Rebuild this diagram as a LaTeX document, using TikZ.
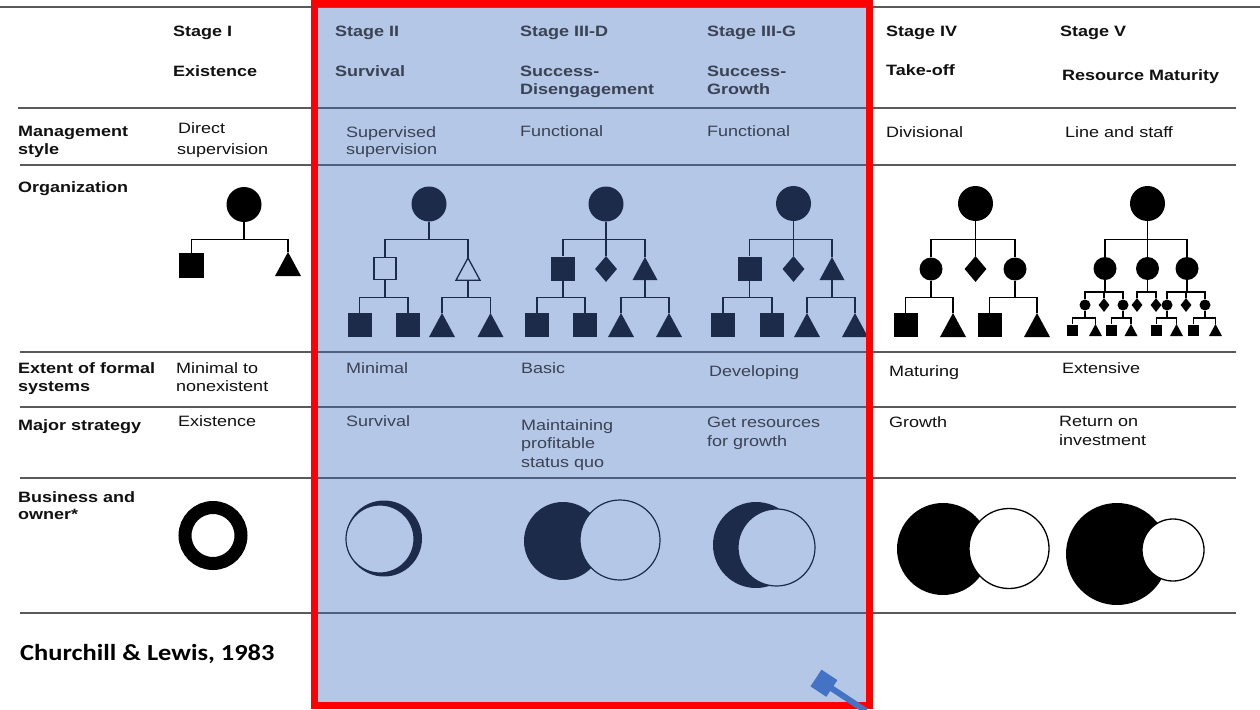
\documentclass[tikz,border=0pt]{standalone}
\usepackage{fontspec}
\setmainfont[FakeStretch=1.2]{Liberation Sans}
\newfontfamily\calib[FakeStretch=1.15]{Carlito}
\usetikzlibrary{shapes.geometric,arrows.meta}
\definecolor{bluebg}{HTML}{B4C7E7}
\definecolor{navy}{HTML}{1D2B4B}
\definecolor{bluetext}{HTML}{3A4253}
\definecolor{blueline}{HTML}{4E5F7F}
\definecolor{rulegray}{HTML}{5A5A5A}
\definecolor{inkk}{HTML}{111111}
\definecolor{arrowblue}{HTML}{4472C4}
\tikzset{
  tx/.style={anchor=base west, inner sep=0, font=\fontsize{15}{18}\selectfont},
  hd/.style={tx, font=\fontsize{15}{18}\selectfont\bfseries},
  outtxt/.style={text=inkk},
  intxt/.style={text=bluetext},
  bigc/.style={circle, fill=#1, inner sep=0, minimum size=35},
  midc/.style={circle, fill=#1, inner sep=0, minimum size=23},
  smc/.style={circle, fill=#1, inner sep=0, minimum size=11},
  sqb/.style={rectangle, fill=#1, inner sep=0, minimum size=24},
  sqs/.style={rectangle, fill=#1, inner sep=0, minimum size=11},
  dmd/.style={diamond, fill=#1, inner sep=0, minimum width=22, minimum height=26},
  dms/.style={diamond, fill=#1, inner sep=0, minimum width=11, minimum height=14},
  conn/.style={draw=#1, line width=1.9, line join=miter},
  rulel/.style={line width=2.3}
}
\newcommand\trig[5][]{\coordinate (#2) at (#3,#4); \coordinate (#2bot) at (#3,#4+1.85*#5); \path[#1] (#2) -- ++(#5,1.85*#5) -- ++(-2*#5,0) -- cycle;}
\newcommand\link[4]{\draw[conn=#1] (#2) -- (#2 |- #4) -| (#3);}
\begin{document}
\begin{tikzpicture}[x=1pt,y=-1pt]
\useasboundingbox (0,0) rectangle (1260,709);
\fill[white] (0,0) rectangle (1260,709);
\fill[bluebg] (314.5,3.5) rectangle (869,706);

% rules
\draw[rulegray, rulel] (0,7) -- (314.5,7);
\draw[blueline, rulel] (314.5,7) -- (869,7);
\draw[rulegray, rulel] (869,7) -- (1260,7);
\foreach \yy/\xa in {108/18,165/20,352/20,407/20,478/20,613/20}{
  \draw[rulegray, rulel] (\xa,\yy) -- (314.5,\yy);
  \draw[blueline, rulel] (314.5,\yy) -- (869,\yy);
  \draw[rulegray, rulel] (869,\yy) -- (1236,\yy);
}

% header
\node[hd,outtxt] (h1a) at (173,37) {Stage I};
\node[hd,outtxt] (h1b) at (173,76) {Existence};
\node[hd,intxt] (h2a) at (335,37) {Stage II};
\node[hd,intxt] (h2b) at (335,76) {Survival};
\node[hd,intxt] (h3a) at (520,37) {Stage III-D};
\node[hd,intxt] (h3b) at (520,76) {Success-};
\node[hd,intxt] (h3c) at (520,94) {Disengagement};
\node[hd,intxt] (h4a) at (707,37) {Stage III-G};
\node[hd,intxt] (h4b) at (707,76) {Success-};
\node[hd,intxt] (h4c) at (707,94) {Growth};
\node[hd,outtxt] (h5a) at (886,37) {Stage IV};
\node[hd,outtxt] (h5b) at (886,75) {Take-off};
\node[hd,outtxt] (h6a) at (1060,37) {Stage V};
\node[hd,outtxt] (h6b) at (1062,81) {Resource Maturity};

% row labels
\node[hd,outtxt] (r1a) at (18,136.5) {Management};
\node[hd,outtxt] (r1b) at (18,154) {style};
\node[hd,outtxt] (r2a) at (18,192) {Organization};
\node[hd,outtxt] (r3a) at (18,373.5) {Extent of formal};
\node[hd,outtxt] (r3b) at (18,391.5) {systems};
\node[hd,outtxt] (r4a) at (18,430) {Major strategy};
\node[hd,outtxt] (r5a) at (18,502) {Business and};
\node[hd,outtxt] (r5b) at (18,519) {owner*};

% management style
\node[tx,outtxt] (m1a) at (178,133) {Direct};
\node[tx,outtxt] (m1b) at (177,154) {supervision};
\node[tx,intxt] (m2a) at (346,137) {Supervised};
\node[tx,intxt] (m2b) at (346,154) {supervision};
\node[tx,intxt] (m3a) at (520,136.5) {Functional};
\node[tx,intxt] (m4a) at (707,136.5) {Functional};
\node[tx,outtxt] (m5a) at (886,137) {Divisional};
\node[tx,outtxt] (m6a) at (1065,137) {Line and staff};

% formal systems
\node[tx,outtxt] (f1a) at (176,373) {Minimal to};
\node[tx,outtxt] (f1b) at (176,391) {nonexistent};
\node[tx,intxt] (f2a) at (346,373) {Minimal};
\node[tx,intxt] (f3a) at (521,373) {Basic};
\node[tx,intxt] (f4a) at (709,376) {Developing};
\node[tx,outtxt] (f5a) at (889,376) {Maturing};
\node[tx,outtxt] (f6a) at (1062,373) {Extensive};

% strategy
\node[tx,outtxt] (s1a) at (178,426) {Existence};
\node[tx,intxt] (s2a) at (346,426.5) {Survival};
\node[tx,intxt] (s3a) at (521,430) {Maintaining};
\node[tx,intxt] (s3b) at (521,448) {profitable};
\node[tx,intxt] (s3c) at (521,467) {status quo};
\node[tx,intxt] (s4a) at (707,427) {Get resources};
\node[tx,intxt] (s4b) at (707,446) {for growth};
\node[tx,outtxt] (s5a) at (889,427) {Growth};
\node[tx,outtxt] (s6a) at (1059,426) {Return on};
\node[tx,outtxt] (s6b) at (1059,445) {investment};

\node[anchor=base west, inner sep=0, text=black, font=\calib\bfseries\fontsize{23}{26}\selectfont] (cite) at (20,660) {Churchill \& Lewis, 1983};

% bar levels
\coordinate (barA) at (0,239.5);
\coordinate (barB) at (0,297.5);
\coordinate (barC) at (0,292);
\coordinate (barD) at (0,318);

% Stage I
\node[bigc=black] (rI) at (244,204.5) {};
\node[sqb=black, minimum size=25] (sI) at (191.5,265.5) {};
\trig[fill=black]{tI}{288}{252}{13}
\link{black}{rI.south}{sI.north}{barA}
\link{black}{rI.south}{tI}{barA}

% Stage II
\node[bigc=navy] (rII) at (429,204) {};
\node[sqb=bluebg, draw=navy, line width=1.3, minimum size=22] (sII) at (385,268.5) {};
\trig[draw=navy, line width=1.3, fill=bluebg]{tII}{468}{258}{12}
\link{navy}{rII.south}{sII.north}{barA}
\link{navy}{rII.south}{tII}{barA}
\node[sqb=navy] (sIIa) at (359.5,325) {};
\node[sqb=navy] (sIIb) at (408,325) {};
\trig[fill=navy]{tIIa}{442}{313}{13}
\trig[fill=navy]{tIIb}{490.5}{313}{13}
\link{navy}{sII.south}{sIIa.north}{barB}
\link{navy}{sII.south}{sIIb.north}{barB}
\link{navy}{tIIbot}{tIIa}{barB}
\link{navy}{tIIbot}{tIIb}{barB}

% Stage III-D
\node[bigc=navy] (rIII) at (606,204) {};
\node[sqb=navy] (sIII) at (563,268.5) {};
\node[dmd=navy] (dIII) at (606,269) {};
\trig[fill=navy]{tIII}{645}{257}{12.5}
\link{navy}{rIII.south}{sIII.north}{barA}
\link{navy}{rIII.south}{dIII.north}{barA}
\link{navy}{rIII.south}{tIII}{barA}
\node[sqb=navy] (sIIIa) at (537,325) {};
\node[sqb=navy] (sIIIb) at (585,325) {};
\trig[fill=navy]{tIIIa}{621}{313}{13}
\trig[fill=navy]{tIIIb}{669}{313}{13}
\link{navy}{sIII.south}{sIIIa.north}{barB}
\link{navy}{sIII.south}{sIIIb.north}{barB}
\link{navy}{tIIIbot}{tIIIa}{barB}
\link{navy}{tIIIbot}{tIIIb}{barB}

% Stage III-G
\node[bigc=navy] (rG) at (793.5,203.5) {};
\node[sqb=navy] (sG) at (749.5,268.5) {};
\node[dmd=navy] (dG) at (793.5,269) {};
\trig[fill=navy]{tG}{832}{257}{12.5}
\link{navy}{rG.south}{sG.north}{barA}
\link{navy}{rG.south}{dG.north}{barA}
\link{navy}{rG.south}{tG}{barA}
\node[sqb=navy] (sGa) at (723,325) {};
\node[sqb=navy] (sGb) at (772,325) {};
\trig[fill=navy]{tGa}{807}{313}{13}
\trig[fill=navy]{tGb}{855}{313}{13}
\link{navy}{sG.south}{sGa.north}{barB}
\link{navy}{sG.south}{sGb.north}{barB}
\link{navy}{tGbot}{tGa}{barB}
\link{navy}{tGbot}{tGb}{barB}

% Stage IV
\node[bigc=black] (rIV) at (975.5,203.5) {};
\node[midc=black] (cIVa) at (931,269) {};
\node[dmd=black] (dIV) at (975.5,269) {};
\node[midc=black] (cIVb) at (1015,269) {};
\link{black}{rIV.south}{cIVa.north}{barA}
\link{black}{rIV.south}{dIV.north}{barA}
\link{black}{rIV.south}{cIVb.north}{barA}
\node[sqb=black] (sIVa) at (905.5,325) {};
\trig[fill=black]{tIVa}{953}{313}{13}
\node[sqb=black] (sIVb) at (989.5,325) {};
\trig[fill=black]{tIVb}{1037}{313}{13}
\link{black}{cIVa.south}{sIVa.north}{barB}
\link{black}{cIVa.south}{tIVa}{barB}
\link{black}{cIVb.south}{sIVb.north}{barB}
\link{black}{cIVb.south}{tIVb}{barB}

% Stage V
\node[bigc=black] (rV) at (1147.5,203.5) {};
\node[midc=black] (cV1) at (1105,268.5) {};
\node[midc=black] (cV2) at (1147.5,268.5) {};
\node[midc=black] (cV3) at (1187,268.5) {};
\link{black}{rV.south}{cV1.north}{barA}
\link{black}{rV.south}{cV2.north}{barA}
\link{black}{rV.south}{cV3.north}{barA}
\node[smc=black] (scV1) at (1085,305) {};
\node[dms=black] (dV1) at (1104,305) {};
\node[smc=black] (scV2) at (1123,305) {};
\node[dms=black] (dV2) at (1137,305) {};
\node[dms=black] (dV3) at (1156,305) {};
\node[smc=black] (scV3) at (1167,305) {};
\node[dms=black] (dV4) at (1186,305) {};
\node[smc=black] (scV4) at (1205,305) {};
\link{black}{cV1.south}{scV1.north}{barC}
\link{black}{cV1.south}{dV1.north}{barC}
\link{black}{cV1.south}{scV2.north}{barC}
\link{black}{cV2.south}{dV2.north}{barC}
\link{black}{cV2.south}{dV3.north}{barC}
\link{black}{cV3.south}{scV3.north}{barC}
\link{black}{cV3.south}{dV4.north}{barC}
\link{black}{cV3.south}{scV4.north}{barC}
\node[sqs=black] (sqV1) at (1072.5,330) {};
\trig[fill=black]{tV1}{1095.5}{324}{6.5}
\node[sqs=black] (sqV2) at (1111.5,330) {};
\trig[fill=black]{tV2}{1131}{324}{6.5}
\node[sqs=black] (sqV3) at (1156.5,330) {};
\trig[fill=black]{tV3}{1176.5}{324}{6.5}
\node[sqs=black] (sqV4) at (1193.5,330) {};
\trig[fill=black]{tV4}{1215.5}{324}{6.5}
\link{black}{scV1.south}{sqV1.north}{barD}
\link{black}{scV1.south}{tV1}{barD}
\link{black}{scV2.south}{sqV2.north}{barD}
\link{black}{scV2.south}{tV2}{barD}
\link{black}{scV3.south}{sqV3.north}{barD}
\link{black}{scV3.south}{tV3}{barD}
\link{black}{scV4.south}{sqV4.north}{barD}
\link{black}{scV4.south}{tV4}{barD}

% business and owner
\draw[black, line width=13] (213,535.5) circle (28);
\fill[navy] (384,538.5) circle (38);
\filldraw[fill=bluebg, draw=navy, line width=1.2] (380,539) circle (34);
\fill[navy] (563,541) circle (39);
\filldraw[fill=bluebg, draw=navy, line width=1.2] (620,540) circle (40);
\fill[navy] (756,545) circle (43);
\filldraw[fill=bluebg, draw=navy, line width=1.2] (776.5,547.5) circle (38.5);
\fill[black] (943,549) circle (46);
\filldraw[fill=white, draw=black, line width=1.3] (1009,548.5) circle (40);
\fill[black] (1117,554) circle (51);
\filldraw[fill=white, draw=black, line width=1.3] (1173,550) circle (31);

% red frame
\draw[red, line width=7] (314.5,3.5) rectangle (869,705.5);

% arrow
\coordinate (arrS) at (866,711);
\coordinate (arrE) at (816,678);
\draw[arrowblue, line width=6, -{Square[length=19pt,width=20pt]}] (arrS) -- (arrE);
\end{tikzpicture}
\end{document}
